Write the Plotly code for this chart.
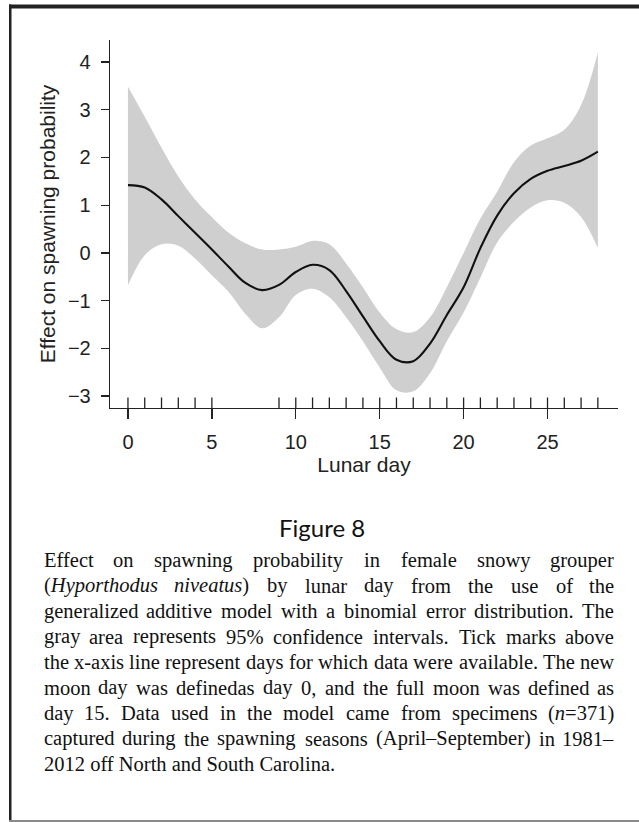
import re
import plotly.graph_objects as go

# ---------------- data ----------------
days = list(range(29))
fit = [1.42, 1.37, 1.12, 0.77, 0.42, 0.07, -0.29, -0.63, -0.78, -0.67,
       -0.40, -0.25, -0.36, -0.80, -1.33, -1.85, -2.24, -2.27, -1.90, -1.30,
       -0.72, 0.10, 0.78, 1.25, 1.55, 1.72, 1.82, 1.93, 2.12]
upper = [3.48, 2.85, 2.20, 1.60, 1.12, 0.75, 0.42, 0.20, 0.07, 0.07,
         0.13, 0.25, 0.18, -0.22, -0.72, -1.25, -1.60, -1.66, -1.35, -0.72,
         0.00, 0.72, 1.28, 1.90, 2.25, 2.40, 2.58, 3.10, 4.20]
lower = [-0.68, -0.05, 0.18, 0.15, -0.12, -0.47, -0.82, -1.28, -1.58, -1.35,
         -0.88, -0.75, -0.93, -1.35, -1.85, -2.40, -2.88, -2.90, -2.52, -1.85,
         -1.25, -0.52, 0.22, 0.65, 0.95, 1.10, 1.05, 0.75, 0.10]
rug_days = [0, 1, 2, 3, 4, 5, 9, 10, 11, 12, 13, 14, 15, 16, 17, 18, 19,
            20, 21, 22, 23, 24, 25, 26, 27, 28]
x_ticks = [0, 5, 10, 15, 20, 25]
y_ticks = [-3, -2, -1, 0, 1, 2, 3, 4]

x_title = "Lunar day"
y_title = "Effect on spawning probability"
fig_label = "Figure 8"
caption_lines = [
    "Effect on spawning probability in female snowy grouper",
    "(<i>Hyporthodus</i> <i>niveatus</i>) by lunar day from the use of the",
    "generalized additive model with a binomial error distribution. The",
    "gray area represents 95% confidence intervals. Tick marks above",
    "the x-axis line represent days for which data were available. The new",
    "moon day was definedas day 0, and the full moon was defined as",
    "day 15. Data used in the model came from specimens (<i>n</i>=371)",
    "captured during the spawning seasons (April\u2013September) in 1981\u2013",
    "2012 off North and South Carolina.",
]

# ---------------- layout geometry (pixels) ----------------
W, H = 639, 822
L, R, T, B = 110, 618, 40, 408


def px(x):
    return (x - L) / (R - L)


def py(y):
    return (B - y) / (B - T)


INK = "#222222"
BAND = "#cfcfcf"

fig = go.Figure()
fig.add_trace(go.Scatter(x=days, y=upper, mode="lines",
                         line=dict(width=0, shape="spline", color=BAND),
                         hoverinfo="skip", showlegend=False))
fig.add_trace(go.Scatter(x=days, y=lower, mode="lines", fill="tonexty",
                         fillcolor=BAND,
                         line=dict(width=0, shape="spline", color=BAND),
                         hoverinfo="skip", showlegend=False))
fig.add_trace(go.Scatter(x=days, y=fit, mode="lines",
                         line=dict(width=2.1, shape="spline", color="#111111"),
                         hoverinfo="skip", showlegend=False))

# rug ticks above the x-axis line
for d in rug_days:
    fig.add_shape(type="line", xref="x", yref="paper", x0=d, x1=d,
                  y0=0, y1=10.5 / (B - T), line=dict(color=INK, width=1.3))

# outer frame: filled strips kept inside the picture
FRAME = "#222222"
fig.add_shape(type="rect", xref="paper", yref="paper",
              x0=px(9), x1=px(639), y0=py(8.5), y1=py(4.5),
              line=dict(width=0), fillcolor=FRAME)
fig.add_shape(type="rect", xref="paper", yref="paper",
              x0=px(9), x1=px(11.5), y0=py(822), y1=py(4.5),
              line=dict(width=0), fillcolor=FRAME)
fig.add_shape(type="rect", xref="paper", yref="paper",
              x0=px(9), x1=px(639), y0=py(822), y1=py(820),
              line=dict(width=0), fillcolor="#8a8a8a")

# "Figure 8"
fig.add_annotation(text=fig_label, xref="paper", yref="paper",
                   x=px(322), y=py(527), xanchor="center", yanchor="middle",
                   showarrow=False,
                   font=dict(family="Lato", size=24, color="#111111"))

# justified caption
TW = {' ': 250, 'a': 444, 'b': 500, 'c': 444, 'd': 500, 'e': 444, 'f': 333,
      'g': 500, 'h': 500, 'i': 278, 'j': 278, 'k': 500, 'l': 278, 'm': 778,
      'n': 500, 'o': 500, 'p': 500, 'q': 500, 'r': 333, 's': 389, 't': 278,
      'u': 500, 'v': 500, 'w': 722, 'x': 500, 'y': 500, 'z': 444, 'A': 722,
      'B': 667, 'C': 667, 'D': 722, 'E': 611, 'F': 556, 'G': 722, 'H': 722,
      'I': 333, 'J': 389, 'K': 722, 'L': 611, 'M': 889, 'N': 722, 'O': 722,
      'P': 556, 'Q': 722, 'R': 667, 'S': 556, 'T': 611, 'U': 722, 'V': 722,
      'W': 944, 'X': 722, 'Y': 722, 'Z': 611, '(': 333, ')': 333, '.': 250,
      ',': 250, '%': 833, '\u2013': 500, '=': 564, '-': 333}
FS = 20.5
CAP_L, CAP_R = 43, 615
CAP_Y0, CAP_DY = 560, 25.5


def wwidth(word):
    plain = re.sub(r"<[^>]+>", "", word)
    return sum(TW.get(c, 500) for c in plain) * FS / 1000.0


cap_font = dict(family="Liberation Serif", size=FS, color="#111111")
for i, line in enumerate(caption_lines):
    yy = py(CAP_Y0 + i * CAP_DY)
    if i == len(caption_lines) - 1:
        fig.add_annotation(text=line, xref="paper", yref="paper",
                           x=px(CAP_L), y=yy, xanchor="left", yanchor="middle",
                           showarrow=False, font=cap_font, borderpad=0)
        continue
    words = line.split(" ")
    ws = [wwidth(w) for w in words]
    gap = (CAP_R - CAP_L - sum(ws)) / (len(words) - 1)
    xcur = CAP_L
    for j, (w, wd) in enumerate(zip(words, ws)):
        if j == 0:
            xa, xv = "left", xcur
        elif j == len(words) - 1:
            xa, xv = "right", CAP_R
        else:
            xa, xv = "center", xcur + wd / 2
        fig.add_annotation(text=w, xref="paper", yref="paper",
                           x=px(xv), y=yy, xanchor=xa, yanchor="middle",
                           showarrow=False, font=cap_font, borderpad=0)
        xcur += wd + gap

axis_font = dict(family="Liberation Sans", size=20, color=INK)
title_font = dict(family="Liberation Sans", size=21, color=INK)

fig.update_layout(
    width=W, height=H,
    margin=dict(l=L, r=W - R, t=T, b=H - B, autoexpand=False),
    paper_bgcolor="white", plot_bgcolor="white",
    showlegend=False, hovermode=False,
    xaxis=dict(range=[-1.07, 29.2], tickvals=x_ticks, ticks="outside",
               ticklen=10, tickwidth=1.3, tickcolor=INK, showline=True,
               linecolor=INK, linewidth=1.3, showgrid=False, zeroline=False,
               tickfont=axis_font, ticklabelstandoff=6,
               title=dict(text=x_title, font=title_font, standoff=4)),
    yaxis=dict(range=[-3.25, 4.46], tickvals=y_ticks, ticks="outside",
               ticklen=8, tickwidth=1.3, tickcolor=INK, showline=True,
               linecolor=INK, linewidth=1.3, showgrid=False, zeroline=False,
               tickfont=axis_font, ticklabelstandoff=6,
               title=dict(text=y_title, font=title_font, standoff=6)),
)

fig.write_html(
    "out.html",
    config={"displayModeBar": False, "staticPlot": True},
    post_script="document.body.style.margin='0';"
                "document.body.style.overflow='hidden';",
)
